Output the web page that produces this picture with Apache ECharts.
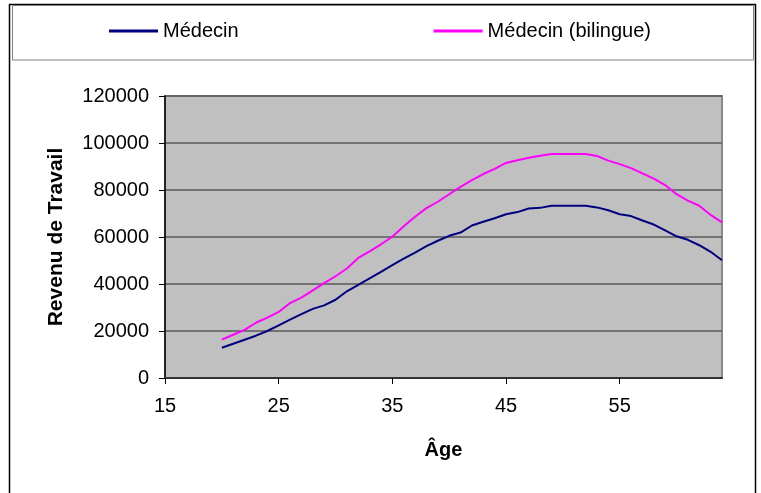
<!DOCTYPE html>
<html>
<head>
<meta charset="utf-8">
<script src="https://cdn.jsdelivr.net/npm/echarts@6/dist/echarts.min.js"></script>
<style>
html,body{margin:0;padding:0;background:#fff;}
#chart{width:761px;height:493px;}
</style>
</head>
<body>
<div id="chart"></div>
<script>
const seriesNames = ['Médecin', 'Médecin (bilingue)'];
const ages = [20,21,22,23,24,25,26,27,28,29,30,31,32,33,34,35,36,37,38,39,40,41,42,43,44,45,46,47,48,49,50,51,52,53,54,55,56,57,58,59,60,61,62,63,64];
const medecin = [12900,14600,16300,18000,20000,22400,24800,27200,29400,30900,33300,36900,39600,42400,45200,48000,50800,53400,56100,58400,60500,61900,64900,66500,68000,69700,70600,72100,72400,73300,73300,73300,73300,72600,71400,69700,68900,67000,65300,62800,60300,58800,56500,53700,50100];
const medecinBilingue = [16300,18400,20500,23500,25700,28100,31900,34200,37300,40400,43300,46600,51100,53900,56900,60100,64600,68600,72300,75000,78200,81300,84200,86800,89000,91500,92700,93700,94600,95300,95300,95300,95300,94500,92500,91000,89300,87100,84800,82100,78200,75500,73300,69400,66200];
const xTicks = [15,25,35,45,55];
const yTicks = [0,20000,40000,60000,80000,100000,120000];

const font = 'Liberation Sans, Arial, sans-serif';
const chart = echarts.init(document.getElementById('chart'), null, {renderer:'canvas'});
chart.setOption({
  animation:false,
  backgroundColor:'#fff',
  graphic:[
    {type:'rect', shape:{x:9.5,y:4.5,width:746,height:490}, style:{fill:'none',stroke:'#000',lineWidth:1.5}, z:-1},
    {type:'rect', shape:{x:12.5,y:5.5,width:741,height:54.5}, style:{fill:'none',stroke:'#808080',lineWidth:1}, z:-1}
  ],
  legend:{
    left:109, top:21, padding:0,
    itemWidth:49, itemHeight:3, itemGap:195,
    icon:'rect',
    textStyle:{fontFamily:font,fontSize:20,color:'#000'},
    data:seriesNames
  },
  grid:{left:165,top:96,width:557,height:282,show:true,backgroundColor:'#C0C0C0',borderColor:'#8a8a8a',borderWidth:2},
  xAxis:{
    type:'value', min:15, max:64, interval:10,
    name:'Âge', nameLocation:'middle', nameGap:62,
    nameTextStyle:{fontFamily:font,fontSize:20,fontWeight:'bold',color:'#000'},
    axisLine:{show:true,lineStyle:{color:'#333',width:2}},
    axisTick:{show:true,length:6,lineStyle:{color:'#000',width:1},customValues:xTicks},
    axisLabel:{fontFamily:font,fontSize:20,color:'#000',margin:18,customValues:xTicks},
    splitLine:{show:false}
  },
  yAxis:{
    type:'value', min:0, max:120000, interval:20000,
    name:'Revenu de Travail', nameLocation:'middle', nameGap:98, nameRotate:90,
    nameTextStyle:{fontFamily:font,fontSize:21,fontWeight:'bold',color:'#000'},
    axisLine:{show:true,lineStyle:{color:'#000',width:1.5}},
    axisTick:{show:true,length:6,lineStyle:{color:'#000',width:1}},
    axisLabel:{fontFamily:font,fontSize:20,color:'#000',margin:16,customValues:yTicks,formatter:v=>String(v)},
    splitLine:{show:true,lineStyle:{color:'#5a5a5a',width:1.5}}
  },
  series:[
    {name:seriesNames[0], type:'line', data:ages.map((a,i)=>[a,medecin[i]]), showSymbol:false, symbol:'none', lineStyle:{color:'#000080',width:2}, itemStyle:{color:'#000080'}, z:3},
    {name:seriesNames[1], type:'line', data:ages.map((a,i)=>[a,medecinBilingue[i]]), showSymbol:false, symbol:'none', lineStyle:{color:'#FF00FF',width:2}, itemStyle:{color:'#FF00FF'}, z:3}
  ]
});
</script>
</body>
</html>
